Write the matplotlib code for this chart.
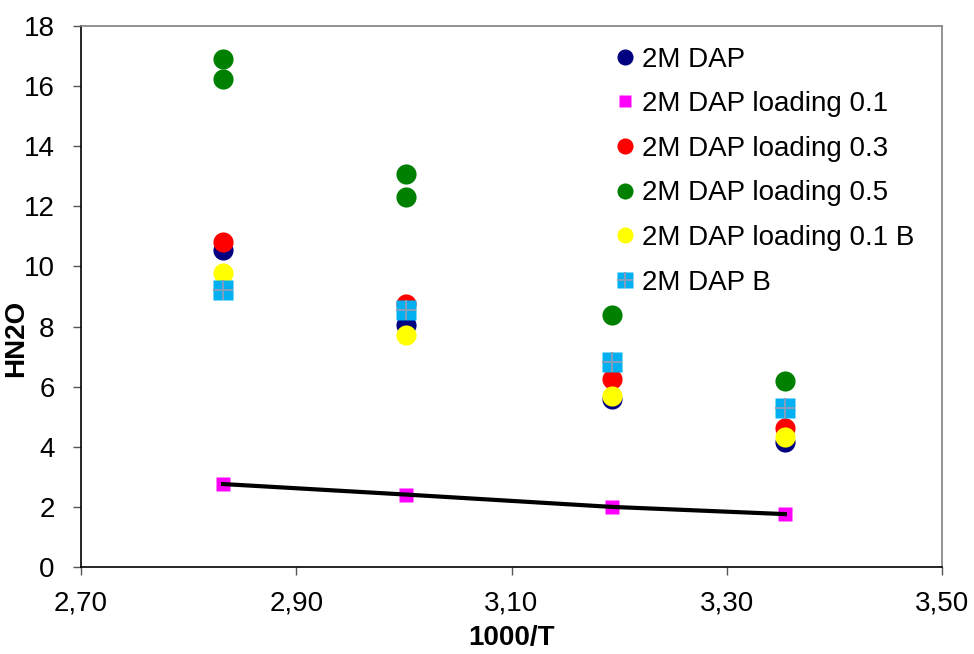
import matplotlib
matplotlib.use("Agg")
import matplotlib.pyplot as plt
from matplotlib.ticker import FuncFormatter, FixedLocator, MultipleLocator

plt.rcParams['font.family'] = ['Liberation Sans', 'DejaVu Sans']

# 1000/T for 80, 60, 40 and 25 degC
x_temp = [2.832, 3.002, 3.193, 3.354]

dap = [10.55, 8.05, 5.6, 4.17]
dap_load01 = [2.76, 2.41, 2.0, 1.76]
dap_load03 = [10.82, 8.75, 6.25, 4.63]
dap_load05_x = [2.832, 2.832, 3.002, 3.002, 3.193, 3.354]
dap_load05 = [16.9, 16.25, 13.07, 12.3, 8.4, 6.2]
dap_load01_b = [9.78, 7.72, 5.68, 4.33]
dap_b = [9.2, 8.55, 6.82, 5.3]

labels = ["2M DAP", "2M DAP loading 0.1", "2M DAP loading 0.3",
          "2M DAP loading 0.5", "2M DAP loading 0.1 B", "2M DAP B"]
x_ticks = [2.70, 2.90, 3.10, 3.30, 3.50]

fig = plt.figure(figsize=(9.74, 6.54), dpi=100)
ax = fig.add_axes([81/974, 1 - 567/654, (942 - 81)/974, (567 - 26)/654])

ms = 14.5
h1, = ax.plot(x_temp, dap, 'o', color='#000080', ms=ms, mec='none', label=labels[0])
h2, = ax.plot(x_temp, dap_load01, 's', color='#FF00FF', ms=10, mec='none', label=labels[1])
h3, = ax.plot(x_temp, dap_load03, 'o', color='#FF0000', ms=ms, mec='none', label=labels[2])
h4, = ax.plot(dap_load05_x, dap_load05, 'o', color='#008000', ms=ms, mec='none', label=labels[3])
h5, = ax.plot(x_temp, dap_load01_b, 'o', color='#FFFF00', ms=ms, mec='none', label=labels[4])
h6, = ax.plot(x_temp, dap_b, 's', color='#00B0F0', ms=ms, mec='none', label=labels[5])
h6p, = ax.plot(x_temp, dap_b, '+', color='#7F9FC0', ms=ms, mew=1.5)

# trend line through the loading 0.1 points
ax.plot(x_temp, dap_load01, '-', color='black', lw=3, zorder=5)

ax.set_xlim(2.70, 3.50)
ax.set_ylim(0, 18)
ax.xaxis.set_major_locator(FixedLocator(x_ticks))
ax.yaxis.set_major_locator(MultipleLocator(2))
ax.xaxis.set_major_formatter(FuncFormatter(lambda v, p: f"{v:.2f}".replace('.', ',')))

ax.tick_params(axis='both', direction='out', length=6, width=1, color='#555555',
               labelsize=20)
ax.tick_params(axis='y', pad=13)
ax.tick_params(axis='x', pad=11)

ax.spines['left'].set_color('black')
ax.spines['bottom'].set_color('black')
ax.spines['top'].set_color('#808080')
ax.spines['right'].set_color('#808080')
for s in ax.spines.values():
    s.set_linewidth(1.2)

ax.set_xlabel("1000/T", fontsize=20, fontweight='bold')
ax.set_ylabel("HN2O", fontsize=20, fontweight='bold')
ax.xaxis.set_label_coords(0.5, -0.1075)
ax.yaxis.set_label_coords(-0.060, 0.423)

ax.legend([h1, h2, h3, h4, h5, (h6, h6p)], labels, loc='upper right',
          bbox_to_anchor=(0.99, 0.998), frameon=False, fontsize=20,
          handlelength=0.6, handletextpad=0.3, labelspacing=0.67,
          borderaxespad=0.3, markerscale=0.8)

fig.savefig("out.png", dpi=100)
